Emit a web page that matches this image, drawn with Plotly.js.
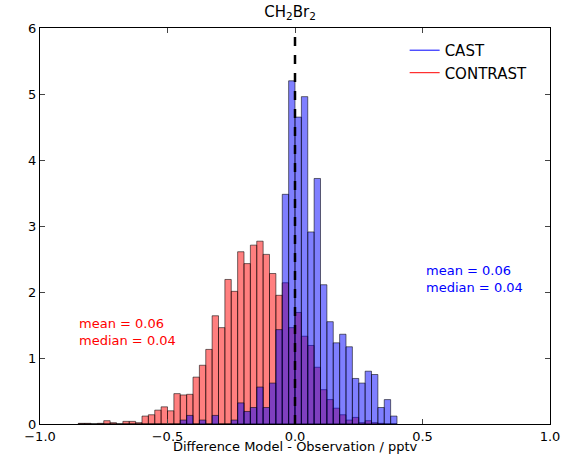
<!DOCTYPE html>
<html>
<head>
<meta charset="utf-8">
<script src="https://cdn.plot.ly/plotly-3.0.1.min.js"></script>
<style>html,body{margin:0;padding:0;background:#fff;}#chart{width:567px;height:454px;}</style>
</head>
<body>
<div id="chart"></div>
<script>
// Left edges of histogram bins (bin width 0.025)
var binLeft = [-0.85,-0.825,-0.8,-0.775,-0.75,-0.725,-0.7,-0.675,-0.65,-0.625,
  -0.6,-0.575,-0.55,-0.525,-0.5,-0.475,-0.45,-0.425,-0.4,-0.375,
  -0.35,-0.325,-0.3,-0.275,-0.25,-0.225,-0.2,-0.175,-0.15,-0.125,
  -0.1,-0.075,-0.05,-0.025,0.0,0.025,0.05,0.075,0.1,0.125,
  0.15,0.175,0.2,0.225,0.25,0.275,0.3,0.325,0.35,0.375];
var binWidth = 0.025;

// CONTRAST (red) density per bin
var contrastVals = [0.01,0.01,0,0.01,0.05,0.02,0,0.04,0.04,0.02,
  0.12,0.14,0.21,0.26,0.20,0.46,0.44,0.45,0.71,0.89,
  1.13,1.64,1.46,2.19,2.01,2.61,2.43,2.71,2.77,2.57,
  2.28,1.95,2.14,1.46,1.69,1.33,1.19,0.86,0.52,0.37,
  0.24,0.14,0.06,0.10,0.02,0.05,0.02,0.01,0,0];

// CAST (blue) density per bin
var castVals = [0,0,0,0,0,0,0,0,0,0,
  0,0,0,0,0,0,0.06,0.13,0,0.06,
  0,0.13,0,0,0.06,0.32,0.19,0.25,0.56,0.25,
  0.62,1.43,3.48,5.20,4.65,4.96,2.91,3.72,2.11,1.55,
  1.23,1.36,1.17,0.69,0.62,0.80,0.75,0.25,0.37,0.12];

var seriesNames = ["CAST", "CONTRAST"];
var statLabel = "mean = 0.06<br>median = 0.04";
var xTitle = "Difference Model - Observation / pptv";
var xTickVals = [-1.0,-0.5,0.0,0.5,1.0];
var xTickText = ["\u22121.0","\u22120.5","0.0","0.5","1.0"];
var yTickVals = [0,1,2,3,4,5,6];

var edge = {color: "rgba(0,0,0,0.55)", width: 1};
var traces = [
  {type:"bar", x: binLeft, y: contrastVals, width: binWidth, offset: 0,
   marker:{color:"rgba(255,0,0,0.5)", line: edge}, showlegend:false, hoverinfo:"skip"},
  {type:"bar", x: binLeft, y: castVals, width: binWidth, offset: 0,
   marker:{color:"rgba(0,0,255,0.5)", line: edge}, showlegend:false, hoverinfo:"skip"},
  {type:"scatter", mode:"lines", x:[null], y:[null], name: seriesNames[0],
   line:{color:"#0000ff", width:1}},
  {type:"scatter", mode:"lines", x:[null], y:[null], name: seriesNames[1],
   line:{color:"#ff0000", width:1}}
];

var ff = "DejaVu Sans, sans-serif";
var layout = {
  width:567, height:454,
  margin:{l:40, r:17, t:28, b:30},
  paper_bgcolor:"#fff", plot_bgcolor:"#fff",
  barmode:"overlay", bargap:0,
  font: {family:ff, size:13, color:"#000"},
  showlegend:true,
  legend:{x:0.715, y:0.985, xanchor:"left", yanchor:"top", bgcolor:"rgba(0,0,0,0)",
          font:{family:ff, size:15, color:"#000"}, tracegroupgap:0, itemwidth:30},
  title:{text:"CH<sub>2</sub>Br<sub>2</sub>", x:0.5115, xanchor:"center", y:0.985, yanchor:"top",
         font:{family:ff, size:15, color:"#000"}},
  xaxis:{range:[-1,1], tickvals:xTickVals, ticktext:xTickText, ticks:"inside", ticklen:5,
         showline:true, linecolor:"#000", linewidth:1, mirror:"ticks", showgrid:false, zeroline:false,
         tickfont:{family:ff, size:13}, automargin:false},
  yaxis:{range:[0,6], tickvals:yTickVals, ticks:"inside", ticklen:5,
         showline:true, linecolor:"#000", linewidth:1, mirror:"ticks", showgrid:false, zeroline:false,
         tickfont:{family:ff, size:13}, automargin:false},
  shapes:[{type:"line", xref:"x", yref:"paper", x0:0, x1:0, y0:0, y1:1,
           line:{color:"#000", width:2.5, dash:"dash"}}],
  annotations:[
    {xref:"x", yref:"y", x:-0.855, y:1.39, xanchor:"left", yanchor:"middle", align:"left",
     text:statLabel, showarrow:false, font:{family:ff, size:13, color:"#ff0000"}},
    {xref:"x", yref:"y", x:0.505, y:2.19, xanchor:"left", yanchor:"middle", align:"left",
     text:statLabel, showarrow:false, font:{family:ff, size:13, color:"#0000ff"}},
    {xref:"x", yref:"paper", x:0, y:0, yshift:-22, xanchor:"center", yanchor:"middle",
     text:xTitle, showarrow:false, font:{family:ff, size:13, color:"#000"}}
  ]
};
Plotly.newPlot("chart", traces, layout, {staticPlot:true, displayModeBar:false});
</script>
</body>
</html>
